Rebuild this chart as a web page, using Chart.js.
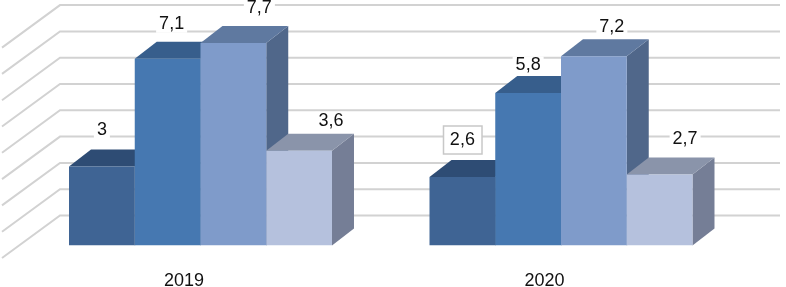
<!DOCTYPE html>
<html>
<head>
<meta charset="utf-8">
<style>
    html, body { margin: 0; padding: 0; background: #fff; }
    canvas { display: block; }
</style>
<script src="https://cdn.jsdelivr.net/npm/chart.js@4/dist/chart.umd.min.js"></script>
</head>
<body>
<canvas id="chart" width="786" height="287"></canvas>
<script>
const years = ["2019", "2020"];
const series1 = [3, 2.6];
const series2 = [7.1, 5.8];
const series3 = [7.7, 7.2];
const series4 = [3.6, 2.7];

// colours per series: front, top, side
const frontColors = ["#3f6494", "#4678b1", "#7f9bca", "#b5c1dd"];
const topColors = ["#2e4c74", "#375e8c", "#5f79a0", "#8a94aa"];
const sideColors = ["#2e4c74", "#375e8c", "#50678a", "#757e96"];

// depth of the fake 3d
const barDepthX = 22;
const barDepthY = 17;

// label nudges from the bar centre / top, [dx, dy] for each series and year
const labelNudge = [
    [[0, -36.5], [0, -37]],
    [[4, -35], [0, -27.5]],
    [[26, -35], [18, -29]],
    [[32, -30], [25.5, -35.5]]
];

const depthPlugin = {
    id: "depth",
    beforeDatasetsDraw(chart) {
        const ctx = chart.ctx;
        const y = chart.scales.y;

        // walls: one diagonal and one horizontal per tick
        ctx.save();
        ctx.strokeStyle = "#d2d2d2";
        ctx.lineWidth = 2;
        y.ticks.forEach(t => {
            const py = y.getPixelForValue(t.value);
            ctx.beginPath();
            ctx.moveTo(2, py + 12.5);
            ctx.lineTo(60, py - 30);
            ctx.lineTo(780, py - 30);
            ctx.stroke();
        });

        // tops and sides, the fronts go over them afterwards
        chart.data.datasets.forEach((ds, i) => {
            chart.getDatasetMeta(i).data.forEach(bar => {
                const left = bar.x - bar.width / 2;
                const right = bar.x + bar.width / 2;

                ctx.fillStyle = sideColors[i];
                ctx.beginPath();
                ctx.moveTo(right, bar.y);
                ctx.lineTo(right + barDepthX, bar.y - barDepthY);
                ctx.lineTo(right + barDepthX, bar.base - barDepthY);
                ctx.lineTo(right, bar.base);
                ctx.closePath();
                ctx.fill();

                ctx.fillStyle = topColors[i];
                ctx.beginPath();
                ctx.moveTo(left, bar.y);
                ctx.lineTo(left + barDepthX, bar.y - barDepthY);
                ctx.lineTo(right + barDepthX, bar.y - barDepthY);
                ctx.lineTo(right, bar.y);
                ctx.closePath();
                ctx.fill();
            });
        });
        ctx.restore();
    },
    afterDatasetsDraw(chart) {
        const ctx = chart.ctx;
        ctx.save();
        ctx.font = "18px 'Liberation Sans'";
        ctx.textAlign = "center";
        ctx.textBaseline = "middle";
        chart.data.datasets.forEach((ds, i) => {
            chart.getDatasetMeta(i).data.forEach((bar, j) => {
                const text = String(ds.data[j]).replace(".", ",");
                const lx = bar.x + labelNudge[i][j][0];
                const ly = bar.y + labelNudge[i][j][1];
                const w = ctx.measureText(text).width;

                ctx.fillStyle = "#fff";
                ctx.fillRect(lx - w / 2 - 3, ly - 9, w + 6, 18);

                // the first label of 2020 is the selected one in the original
                if (i === 0 && j === 1) {
                    ctx.strokeStyle = "#c8c8c8";
                    ctx.lineWidth = 1.5;
                    ctx.fillRect(443.5, 126, 38.5, 28);
                    ctx.strokeRect(443.5, 126, 38.5, 28);
                }

                ctx.fillStyle = "#111";
                ctx.fillText(text, lx, ly);
            });
        });
        ctx.restore();
    }
};

new Chart(document.getElementById("chart"), {
    type: "bar",
    data: {
        labels: years,
        datasets: [series1, series2, series3, series4].map((values, i) => ({
            label: "Series " + (i + 1),
            data: values,
            backgroundColor: frontColors[i],
            borderWidth: 0,
            barPercentage: 1,
            categoryPercentage: 0.7295
        }))
    },
    options: {
        responsive: false,
        animation: false,
        layout: { padding: { top: 35.1, left: 20.25, right: 44.75, bottom: 0 } },
        plugins: {
            legend: { display: false },
            tooltip: { enabled: false }
        },
        scales: {
            x: {
                grid: { display: false },
                border: { display: false },
                ticks: {
                    color: "#111",
                    padding: 17,
                    labelOffset: -16.5,
                    maxRotation: 0,
                    font: { family: "'Liberation Sans'", size: 18 }
                },
                afterFit(scale) { scale.height = 41.5; }
            },
            y: {
                display: false,
                min: 0,
                max: 8,
                ticks: { stepSize: 1 }
            }
        }
    },
    plugins: [depthPlugin]
});
</script>
</body>
</html>
